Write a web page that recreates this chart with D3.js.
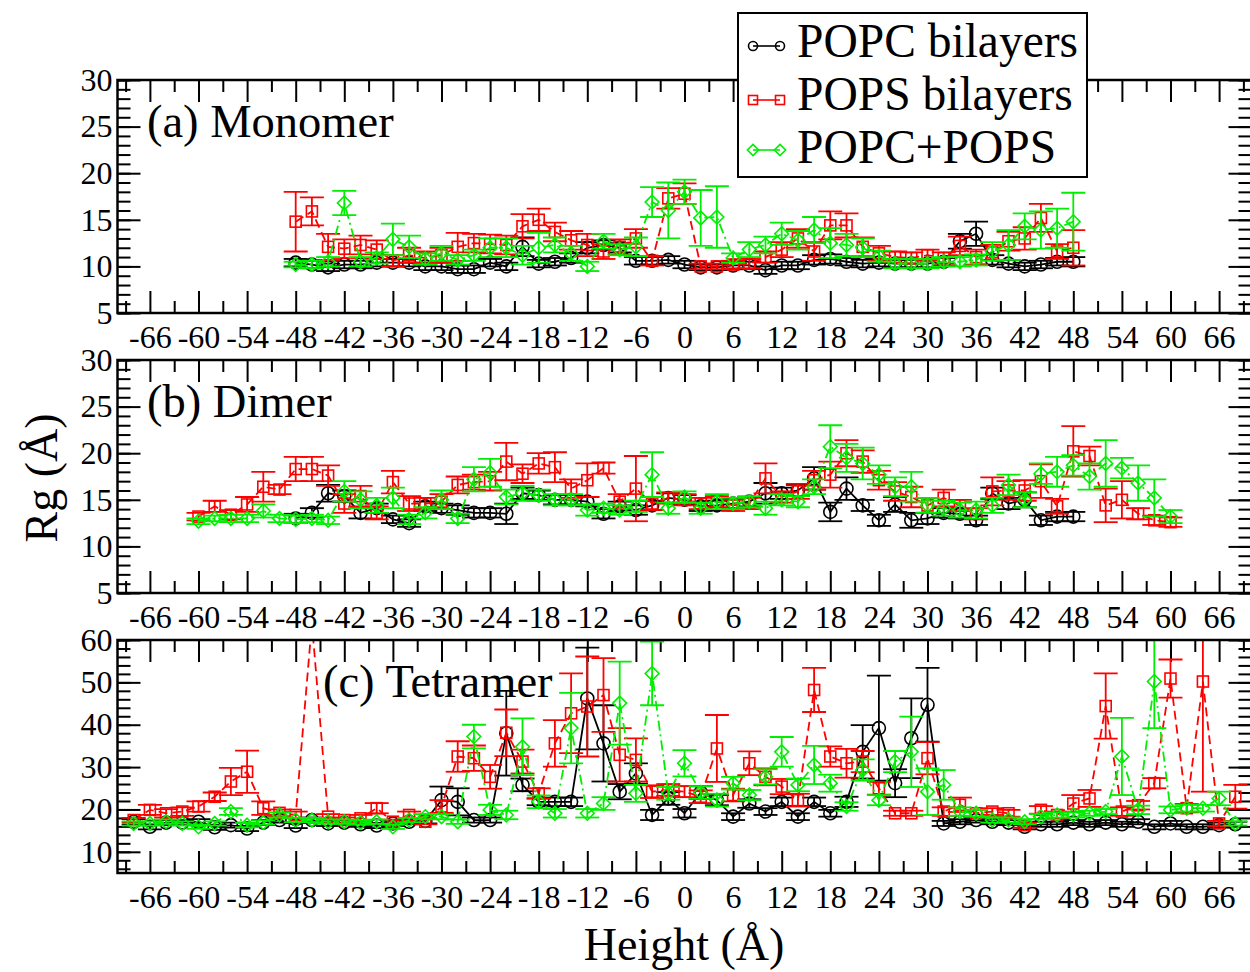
<!DOCTYPE html>
<html><head><meta charset="utf-8">
<script src="https://cdn.jsdelivr.net/npm/d3@7"></script>
<style>body{margin:0;background:#fff} svg{display:block} text{fill:#000}</style>
</head><body><svg id="c" width="1250" height="972"></svg>
<script>
// ---------- categories (height, Å) ----------
const heightsA = d3.range(-48, 49, 2);           // monomer, all series
const heightsB_popc = d3.range(-48, 49, 2);      // dimer POPC
const heightsB = d3.range(-60, 61, 2);           // dimer POPS / mix
const heightsC = d3.range(-68, 69, 2);           // tetramer

// ---------- (a) Monomer ----------
const popcA = [10.4,10.2,9.9,10.2,10.2,10.4,10.4,10.4,10.0,10.0,9.7,9.7,10.4,10.0,12.1,10.3,10.5,10.9,12.0,12.3,12.0,10.6,10.6,10.7,10.2,9.9,9.9,10.1,10.1,9.6,10.1,10.1,10.7,10.8,10.5,10.3,10.4,10.3,10.3,10.3,10.5,12.7,13.5,10.7,10.3,10.0,10.2,10.5,10.5];
const popcAerr = [0.4,0.4,0.4,0.4,0.4,0.4,0.4,0.4,0.4,0.4,0.4,0.4,0.4,0.4,1.0,0.4,0.4,0.5,0.6,0.5,0.5,0.4,0.4,0.4,0.4,0.3,0.3,0.4,0.4,0.4,0.4,0.4,0.5,0.5,0.4,0.4,0.4,0.4,0.4,0.4,0.4,0.8,1.3,0.5,0.4,0.4,0.4,0.4,0.5];
const popsA = [14.8,15.9,12.1,11.9,12.3,11.8,10.6,11.2,10.9,11.2,12.1,12.5,12.4,12.3,14.3,15.0,13.7,12.8,12.3,11.6,12.1,13.0,10.6,17.3,17.8,10.0,10.0,10.2,10.3,11.0,11.8,13.0,11.6,14.4,14.4,12.1,11.4,11.0,10.9,11.2,10.9,12.2,11.0,11.5,12.7,13.0,15.2,11.6,12.0];
const popsAerr = [3.2,1.5,1.4,1.0,1.0,1.0,0.6,0.8,0.7,0.8,1.5,1.0,1.0,1.0,1.3,1.2,1.0,1.0,1.2,0.8,0.8,1.0,0.5,1.1,1.1,0.3,0.3,0.4,0.5,0.6,0.8,1.0,1.0,1.5,1.3,1.0,0.8,0.6,0.6,0.6,0.6,1.0,0.8,0.8,1.0,1.2,1.5,0.8,1.9];
const mixA = [10.2,10.2,10.5,16.8,10.5,10.9,12.9,12.1,10.8,11.4,10.7,11.2,12.0,12.0,11.2,12.0,12.3,11.4,10.0,12.7,11.8,12.1,16.9,16.0,18.0,15.2,15.3,10.9,11.8,12.3,13.5,12.8,13.9,12.5,12.3,12.0,11.1,10.3,10.3,10.3,10.5,10.5,10.7,11.6,12.3,14.3,13.9,14.1,14.8];
const mixAerr = [0.3,0.4,0.5,1.3,0.5,0.6,1.7,1.2,0.6,0.8,0.5,0.6,1.0,1.0,1.0,1.6,0.8,0.8,0.5,0.8,0.6,1.0,1.6,3.0,1.3,3.0,3.3,0.5,0.8,0.9,1.2,1.0,1.4,1.6,1.2,1.0,0.6,0.5,0.5,0.5,0.5,0.5,0.6,1.0,1.6,1.4,2.0,2.1,3.1];

// ---------- (b) Dimer ----------
const popcB = [13.0,13.6,15.7,15.4,13.6,14.1,12.9,12.5,14.3,14.1,13.9,13.6,13.6,13.5,15.7,15.5,15.0,15.0,14.8,13.5,14.3,13.9,14.4,15.2,15.0,14.3,14.4,14.6,14.8,15.7,15.7,16.0,17.3,13.7,16.2,14.4,12.8,14.5,12.8,13.0,13.6,13.5,12.8,15.7,14.6,15.0,12.8,13.2,13.2];
const popcBerr = [0.5,0.5,0.9,0.6,0.6,0.5,0.4,0.4,0.5,0.5,0.5,0.5,0.5,1.1,0.6,0.5,0.5,0.5,0.5,0.5,0.5,0.5,0.5,0.5,0.5,0.5,0.5,0.5,0.5,1.1,0.6,0.6,1.2,1.0,1.2,0.6,0.6,0.8,0.8,0.6,0.5,0.5,0.5,0.6,0.6,0.8,0.5,0.5,0.5];
const popsB = [13.2,14.3,13.4,14.5,16.4,16.1,18.3,18.3,17.6,14.6,15.4,13.6,16.9,14.6,14.6,14.8,16.6,16.9,17.0,19.1,17.8,18.9,18.5,16.2,17.1,18.4,14.8,16.2,14.6,15.2,15.0,14.6,14.8,14.4,14.6,17.3,15.3,15.9,17.1,17.7,20.0,19.1,17.1,15.9,15.3,14.4,15.2,14.4,13.5,15.9,16.0,16.0,17.0,14.3,20.2,19.7,14.4,15.0,13.5,12.8,12.6];
const popsBerr = [0.4,0.6,0.5,0.8,1.6,0.5,1.3,1.3,1.1,1.0,1.1,0.7,1.2,0.8,0.6,0.8,0.9,0.8,1.0,2.0,1.0,1.1,1.6,1.0,1.8,0.6,0.8,3.5,0.7,0.6,0.6,0.6,0.6,0.6,0.6,1.6,0.6,0.8,1.0,1.4,1.4,1.2,1.0,1.0,1.1,0.8,0.9,0.6,0.6,1.5,1.0,1.1,1.8,0.8,2.7,1.0,1.8,2.0,0.6,0.5,0.5];
const mixB = [12.7,13.0,13.0,13.0,13.8,13.0,12.9,13.0,12.8,15.9,15.0,14.4,15.2,12.9,13.6,15.0,13.0,17.2,17.9,15.3,15.7,15.5,15.0,15.0,13.9,14.1,13.9,14.3,17.7,14.1,15.3,14.1,14.8,14.6,14.8,14.1,15.0,14.8,16.4,20.7,19.5,18.9,17.7,16.4,16.4,14.4,14.1,13.9,13.9,14.4,16.6,15.0,17.8,18.0,18.7,17.5,18.9,18.4,16.8,15.2,13.2];
const mixBerr = [0.3,0.3,0.4,0.4,0.7,0.4,0.4,0.4,0.4,1.1,0.9,0.8,1.1,0.5,0.6,1.0,0.5,1.3,1.5,0.8,0.8,0.6,0.6,0.6,0.6,0.5,0.5,0.6,2.4,0.6,0.6,0.6,0.8,0.6,0.6,0.7,0.6,0.6,0.8,2.3,1.5,1.7,1.0,1.0,1.6,0.8,0.8,0.8,0.9,0.8,1.1,0.8,1.1,1.6,1.1,1.4,2.5,1.1,1.9,2.0,0.7];

// ---------- (c) Tetramer ----------
const popcC = [17.1,15.9,16.9,16.9,17.1,15.8,16.3,15.5,16.9,17.5,16.2,17.5,16.7,16.9,16.5,16.2,16.7,17.1,17.3,22.2,21.8,17.5,17.5,38.0,25.8,21.8,21.8,21.8,46.2,35.6,24.2,28.5,18.7,22.6,19.1,24.0,22.2,18.3,21.4,19.5,21.8,18.3,21.8,19.1,21.8,33.6,39.2,26.2,36.8,44.7,16.7,17.1,17.5,17.1,16.9,15.9,16.5,16.5,16.9,16.5,16.9,16.5,17.1,15.9,16.7,15.9,15.9,16.3,16.5];
const popcCerr = [0.6,0.6,0.6,0.6,0.6,0.6,0.6,0.6,0.6,0.6,0.6,0.6,0.6,0.6,0.6,0.6,0.6,0.6,0.6,3.2,3.2,0.6,0.6,10.0,1.5,0.8,1.0,1.0,12.0,9.0,1.8,2.4,1.2,1.5,1.0,1.5,1.2,0.8,1.0,0.8,1.0,0.8,1.0,0.8,1.2,6.3,12.4,3.3,9.4,8.7,0.6,0.6,0.6,0.6,0.6,0.6,0.6,0.6,0.6,0.6,0.6,0.6,0.6,0.6,0.6,0.6,0.6,0.6,0.6];
const popsC = [17.5,19.9,19.1,19.5,20.7,23.0,26.6,28.9,20.3,19.2,18.7,64.0,18.3,17.5,17.9,20.3,17.1,18.7,17.1,20.7,32.5,32.1,27.7,38.1,31.3,23.8,35.6,42.7,44.3,47.0,32.9,31.7,24.2,24.6,24.2,23.0,34.4,23.4,30.9,27.7,25.4,22.2,48.2,32.5,30.9,31.3,25.0,19.1,19.1,32.1,19.5,21.1,19.1,19.5,19.1,16.3,19.9,18.7,21.4,22.6,44.4,19.5,21.0,26.2,50.9,20.3,50.2,16.7,23.0];
const popsCerr = [0.5,1.2,1.0,1.0,1.2,1.0,3.2,5.0,1.6,0.8,0.8,2.0,0.6,0.6,0.8,1.2,0.5,0.8,0.6,1.5,3.6,3.0,2.8,5.5,2.8,1.2,5.5,9.4,11.8,8.7,6.3,5.1,1.5,1.4,1.3,1.5,7.9,1.5,2.8,2.0,1.8,1.5,5.2,2.4,3.4,2.5,1.5,0.6,0.6,3.8,1.0,1.7,0.8,0.8,0.8,0.6,0.9,0.8,2.0,2.0,7.7,1.0,1.0,1.2,4.5,1.0,26.0,0.6,2.8];
const mixC = [16.7,16.7,17.1,16.7,15.9,16.7,19.5,16.3,16.9,18.7,17.5,17.5,17.1,17.1,16.9,17.1,15.9,17.5,18.3,18.3,17.1,37.2,19.9,18.7,34.8,21.8,19.1,39.2,19.1,21.4,45.1,23.8,52.1,23.8,30.9,24.0,22.2,26.2,23.4,27.7,33.6,25.8,30.5,26.2,20.7,29.3,22.2,31.3,33.6,24.2,25.8,19.5,19.1,17.5,17.5,17.1,18.3,18.7,18.7,19.1,19.5,32.5,19.9,50.2,19.9,20.3,20.3,22.6,16.7];
const mixCerr = [0.5,0.5,0.5,0.5,0.5,0.5,0.8,0.5,0.5,0.6,0.5,0.5,0.5,0.5,0.5,0.5,0.5,0.5,0.6,0.6,0.5,2.8,1.2,1.0,6.7,1.5,1.0,8.3,1.0,1.5,9.8,2.0,7.5,1.5,3.1,1.5,1.5,1.5,1.2,1.8,3.5,1.5,4.5,2.0,1.0,2.5,1.2,2.5,8.3,5.5,3.5,1.0,0.8,0.6,0.6,0.6,0.6,0.6,0.6,0.6,0.6,9.1,1.0,11.0,0.8,0.8,0.8,1.6,0.5];

// ---------- labels ----------
const seriesNames = ["POPC bilayers", "POPS bilayers", "POPC+POPS"];
const panelTitles = ["(a) Monomer", "(b) Dimer", "(c) Tetramer"];
const xMajorTicks = d3.range(-66, 67, 6);
const xMinorTicks = d3.range(-69, 70, 6);
const yTicksAB = [5, 10, 15, 20, 25, 30];
const yTicksC = [10, 20, 30, 40, 50, 60];

// ---------- layout ----------
const svg = d3.select("#c");

// pick an installed Times-like serif font
function pickFont(cands) {
  const t = svg.append("text").attr("x", -1000).attr("y", -1000).attr("font-size", 40).text("POPC bilayers Height 0123");
  let found = null;
  for (const c of cands) {
    t.style("font-family", "monospace");
    const w0 = t.node().getComputedTextLength();
    t.style("font-family", `"${c}", monospace`);
    const w1 = t.node().getComputedTextLength();
    if (Math.abs(w1 - w0) > 0.5) { found = c; break; }
  }
  t.remove();
  return found ? `"${found}", serif` : "serif";
}
const FONT = pickFont(["Liberation Serif", "Times New Roman", "Tinos", "Nimbus Roman", "Times", "DejaVu Serif", "Noto Serif"]);

const L = 117.5, R = 1251.5, H = 233;
const tops = [80, 360, 640];
const x = d3.scaleLinear().domain([-70, 70]).range([L, R]);
const styles = [
  {color: "#000000", dash: null, shape: "circle"},
  {color: "#ff0000", dash: "9,5", shape: "square"},
  {color: "#00ee00", dash: "10,4,2,4", shape: "diamond"}
];
const panels = [
  {title: panelTitles[0], tx: 147, ydom: [5, 30], yt: yTicksAB, ymin: d3.range(5, 31, 1),
   series: [[heightsA, popcA, popcAerr], [heightsA, popsA, popsAerr], [heightsA, mixA, mixAerr]]},
  {title: panelTitles[1], tx: 147, ydom: [5, 30], yt: yTicksAB, ymin: d3.range(5, 31, 1),
   series: [[heightsB_popc, popcB, popcBerr], [heightsB, popsB, popsBerr], [heightsB, mixB, mixBerr]]},
  {title: panelTitles[2], tx: 323, ydom: [5, 60], yt: yTicksC, ymin: d3.range(6, 61, 2),
   series: [[heightsC, popcC, popcCerr], [heightsC, popsC, popsCerr], [heightsC, mixC, mixCerr]]}
];

function marker(g, shape, cx, cy, s, color) {
  if (shape === "circle") {
    g.append("circle").attr("cx", cx).attr("cy", cy).attr("r", s)
      .attr("fill", "none").attr("stroke", color).attr("stroke-width", 1.6);
  } else if (shape === "square") {
    g.append("rect").attr("x", cx - s).attr("y", cy - s).attr("width", 2 * s).attr("height", 2 * s)
      .attr("fill", "none").attr("stroke", color).attr("stroke-width", 1.6);
  } else {
    const d = s * 1.25;
    g.append("path").attr("d", `M${cx},${cy - d}L${cx + d},${cy}L${cx},${cy + d}L${cx - d},${cy}Z`)
      .attr("fill", "none").attr("stroke", color).attr("stroke-width", 1.6);
  }
}

panels.forEach((p, i) => {
  const top = tops[i], bot = top + H;
  const y = d3.scaleLinear().domain(p.ydom).range([bot, top]);
  const clipId = "clip" + i;
  svg.append("clipPath").attr("id", clipId).append("rect")
    .attr("x", L).attr("y", top).attr("width", R - L).attr("height", H);

  const g = svg.append("g");
  const tickStyle = sel => { sel.select(".domain").remove(); sel.selectAll("line").attr("stroke", "#000").attr("stroke-width", 2); };
  g.append("g").attr("transform", `translate(0,${bot})`).call(d3.axisTop(x).tickValues(xMajorTicks).tickSize(22).tickFormat("")).call(tickStyle);
  g.append("g").attr("transform", `translate(0,${bot})`).call(d3.axisTop(x).tickValues(xMinorTicks).tickSize(12).tickFormat("")).call(tickStyle);
  g.append("g").attr("transform", `translate(0,${top})`).call(d3.axisBottom(x).tickValues(xMajorTicks).tickSize(22).tickFormat("")).call(tickStyle);
  g.append("g").attr("transform", `translate(0,${top})`).call(d3.axisBottom(x).tickValues(xMinorTicks).tickSize(12).tickFormat("")).call(tickStyle);
  g.append("g").attr("transform", `translate(${L},0)`).call(d3.axisRight(y).tickValues(p.yt).tickSize(23).tickFormat("")).call(tickStyle);
  g.append("g").attr("transform", `translate(${L},0)`).call(d3.axisRight(y).tickValues(p.ymin).tickSize(13).tickFormat("")).call(tickStyle);
  g.append("g").attr("transform", `translate(${R},0)`).call(d3.axisLeft(y).tickValues(p.yt).tickSize(23).tickFormat("")).call(tickStyle);
  g.append("g").attr("transform", `translate(${R},0)`).call(d3.axisLeft(y).tickValues(p.ymin).tickSize(13).tickFormat("")).call(tickStyle);

  const xl = g.append("g").attr("transform", `translate(0,${bot})`)
    .call(d3.axisBottom(x).tickValues(xMajorTicks).tickSize(0).tickPadding(12).tickFormat(d => String(d)));
  xl.select(".domain").remove();
  xl.attr("font-family", null).attr("font-size", null);
  xl.selectAll("text").attr("font-size", 32).attr("fill", "#000");
  const yl = g.append("g").attr("transform", `translate(${L},0)`)
    .call(d3.axisLeft(y).tickValues(p.yt).tickSize(0).tickPadding(5).tickFormat(d => String(d)));
  yl.select(".domain").remove();
  yl.attr("font-family", null).attr("font-size", null);
  yl.selectAll("text").attr("font-size", 32).attr("fill", "#000");

  const dg = g.append("g").attr("clip-path", `url(#${clipId})`);
  p.series.forEach((s, k) => {
    const st = styles[k];
    const pts = s[0].map((h, j) => ({h: h, v: s[1][j], e: s[2][j]}));
    const line = d3.line().x(d => x(d.h)).y(d => y(d.v));
    dg.append("path").datum(pts).attr("d", line).attr("fill", "none")
      .attr("stroke", st.color).attr("stroke-width", 1.8)
      .attr("stroke-dasharray", st.dash);
    const eg = dg.append("g").attr("stroke", st.color).attr("stroke-width", 1.8);
    pts.forEach(d => {
      const cx = x(d.h), y1 = y(d.v + d.e), y2 = y(d.v - d.e);
      eg.append("line").attr("x1", cx).attr("x2", cx).attr("y1", y1).attr("y2", y2);
      eg.append("line").attr("x1", cx - 12).attr("x2", cx + 12).attr("y1", y1).attr("y2", y1);
      eg.append("line").attr("x1", cx - 12).attr("x2", cx + 12).attr("y1", y2).attr("y2", y2);
    });
    const mg = dg.append("g");
    pts.forEach(d => marker(mg, st.shape, x(d.h), y(d.v), st.shape === "circle" ? 6.5 : 5.5, st.color));
  });

  g.append("rect").attr("x", L).attr("y", top).attr("width", R - L).attr("height", H)
    .attr("fill", "none").attr("stroke", "#000").attr("stroke-width", 2.5);

  g.append("text").attr("x", p.tx).attr("y", top + 57).attr("font-size", 46.5).text(p.title);
});

svg.append("text").attr("x", 684).attr("y", 960).attr("text-anchor", "middle").attr("font-size", 46).text("Height (Å)");
svg.append("text").attr("transform", "translate(57,478) rotate(-90)").attr("text-anchor", "middle").attr("font-size", 46).text("Rg (Å)");

const lg = svg.append("g");
lg.append("rect").attr("x", 738).attr("y", 13).attr("width", 349).attr("height", 164)
  .attr("fill", "#fff").attr("stroke", "#000").attr("stroke-width", 2);
const legY = [46, 100, 150];
const textY = [57, 110, 163];
seriesNames.forEach((name, k) => {
  const st = styles[k];
  lg.append("line").attr("x1", 753).attr("x2", 780).attr("y1", legY[k]).attr("y2", legY[k])
    .attr("stroke", st.color).attr("stroke-width", 1.6);
  marker(lg, st.shape, 753, legY[k], 4.5, st.color);
  marker(lg, st.shape, 780, legY[k], 4.5, st.color);
  lg.append("text").attr("x", 797).attr("y", textY[k]).attr("font-size", 47.5).text(name);
});

svg.selectAll("text").style("font-family", FONT).style("fill", "#000");
</script></body></html>
